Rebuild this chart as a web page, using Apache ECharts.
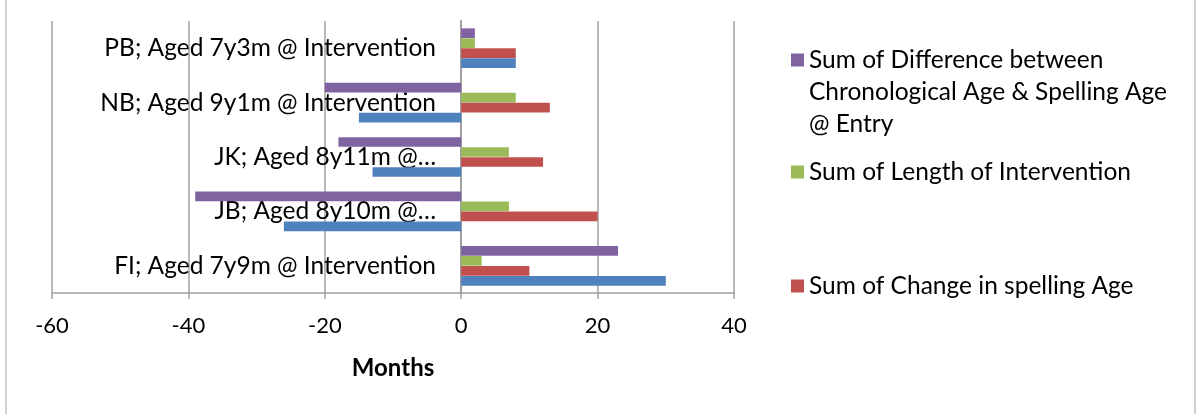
<!DOCTYPE html>
<html>
<head>
<meta charset="utf-8">
<script src="https://cdn.jsdelivr.net/npm/echarts@6/dist/echarts.min.js"></script>
<style>html,body{margin:0;padding:0;background:#fff}#c{width:1196px;height:414px}</style>
</head>
<body>
<div id="c"></div>
<script>
var categories = ['FI; Aged 7y9m @ Intervention', 'JB; Aged 8y10m @…', 'JK; Aged 8y11m @…', 'NB; Aged 9y1m @ Intervention', 'PB; Aged 7y3m @ Intervention'];
var purpleName = 'Sum of Difference between Chronological Age & Spelling Age @ Entry';
var greenName = 'Sum of Length of Intervention';
var redName = 'Sum of Change in spelling Age';
var blueName = 'Sum of Difference between Chronological Age & Spelling Age @ Exit';
var purpleValues = [23, -39, -18, -20, 2];
var greenValues = [3, 7, 7, 8, 2];
var redValues = [10, 20, 12, 13, 8];
var blueValues = [30, -26, -13, -15, 8];
var xTicks = { min: -60, max: 40, interval: 20 };

var FONT = 'Lato';
// first series is drawn at the top of each group
var seriesDefs = [
  { name: purpleName, data: purpleValues, color: '#8064A2' },
  { name: greenName, data: greenValues, color: '#9BBB59' },
  { name: redName, data: redValues, color: '#C0504D' },
  { name: blueName, data: blueValues, color: '#4F81BD' }
];

var series = seriesDefs.map(function (d) {
  return {
    name: d.name,
    type: 'bar',
    data: d.data,
    barWidth: 9.7,
    barGap: '3%',
    itemStyle: { color: d.color }
  };
});

var legendText = { fontFamily: FONT, fontSize: 24.5, color: '#000', lineHeight: 32 };
function legendBox(name, top, extra) {
  return Object.assign({
    data: [name],
    left: 791,
    top: top,
    orient: 'vertical',
    icon: 'rect',
    itemWidth: 13,
    itemHeight: 13,
    itemGap: 0,
    padding: 0,
    textStyle: legendText,
    selectedMode: false
  }, extra || {});
}

var chart = echarts.init(document.getElementById('c'));
chart.setOption({
  animation: false,
  grid: { left: 52, right: 462, top: 21, bottom: 121, containLabel: false, outerBoundsMode: 'none' },
  xAxis: {
    type: 'value',
    min: xTicks.min, max: xTicks.max, interval: xTicks.interval,
    name: 'Months',
    nameLocation: 'middle',
    nameGap: 63,
    nameTextStyle: { fontFamily: FONT, fontSize: 24, fontWeight: 'bold', color: '#000' },
    axisLine: { show: true, lineStyle: { color: '#a0a0a0', width: 1.5 } },
    axisTick: { show: true, length: 6, lineStyle: { color: '#a0a0a0', width: 1.5 } },
    axisLabel: { fontFamily: FONT, fontSize: 22, color: '#000', margin: 22 },
    splitLine: { show: true, lineStyle: { color: '#a0a0a0', width: 1.5 } }
  },
  yAxis: {
    type: 'category',
    data: categories,
    offset: -409,
    axisLine: { show: true, onZero: false, lineStyle: { color: '#a0a0a0', width: 2 } },
    axisTick: { show: false },
    axisLabel: { fontFamily: FONT, fontSize: 24.5, color: '#000', margin: 25 },
    splitLine: { show: false }
  },
  legend: [
    legendBox(purpleName, 44, {
      itemHeight: 96,
      icon: 'path://M0,0 M0,9.5 H13 V22.5 H0 Z M13,96',
      formatter: function () { return 'Sum of Difference between\nChronological Age & Spelling Age\n@ Entry'; }
    }),
    legendBox(greenName, 156),
    legendBox(redName, 270)
  ],
  graphic: [{
    type: 'rect',
    shape: { x: 6, y: -5, width: 1189, height: 430 },
    style: { fill: 'none', stroke: '#c0c0c0', lineWidth: 1.5 },
    silent: true
  }],
  series: series
});
</script>
</body>
</html>
